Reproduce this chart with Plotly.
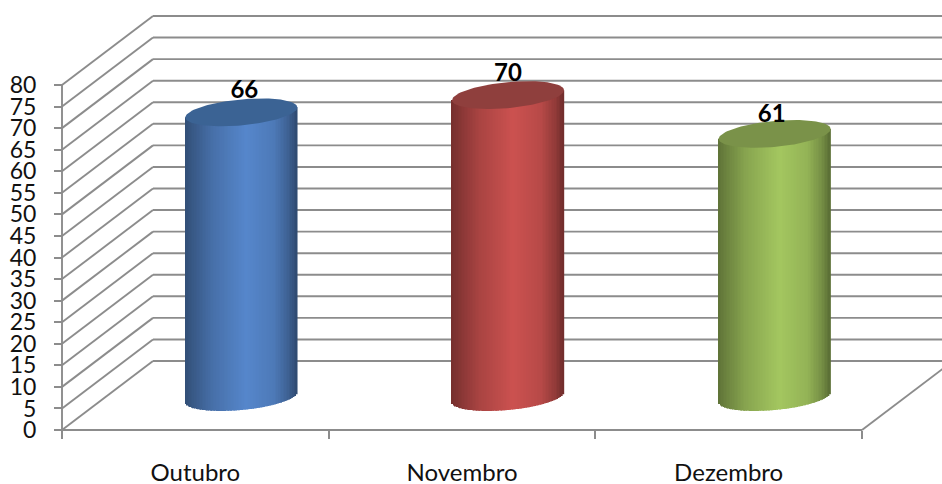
import numpy as np
import plotly.graph_objects as go

categories = ["Outubro", "Novembro", "Dezembro"]
values = [66, 70, 61]
y_ticks = list(range(0, 85, 5))
base_colors = [(86, 135, 204), (204, 82, 80), (164, 199, 96)]
cap_colors = ["#3b6394", "#8f3f3d", "#7a9249"]

W, H = 942, 484
X0, Y0 = 62, 430
PX_X = 800 / 3
PX_Y = 345 / 80
DEPTH_X = 91 / PX_X
DEPTH_Y = 69 / PX_Y
MID_X = 46 / PX_X
MID_Y = 33 / PX_Y
HALF_W = 56 / PX_X
RY = 13 / PX_Y
TILT = 5 / PX_Y
GRID = "#8c8c8c"
LABEL_DX = [3 / PX_X, 0, -3 / PX_X]
LABEL_DY = [20.5 / PX_Y, 20.5 / PX_Y, 18 / PX_Y]

x_edges = [0, 1, 2, 3]
x_centers = [i + 0.5 for i in range(len(categories))]

shapes = []
def seg(x1, y1, x2, y2, width=1.9):
    shapes.append(dict(type="line", xref="x", yref="y", layer="below",
                       x0=x1, y0=y1, x1=x2, y1=y2,
                       line=dict(color=GRID, width=width)))

for v in y_ticks:
    seg(0, v, DEPTH_X, v + DEPTH_Y)
    seg(DEPTH_X, v + DEPTH_Y, 3.4, v + DEPTH_Y)
seg(0, 0, 0, 80)
seg(0, 0, 3, 0)
seg(3, 0, 3 + DEPTH_X, DEPTH_Y)

N = 72
ts = np.linspace(-1, 1, N + 1)
ts = (ts[:-1] + ts[1:]) / 2
profile_t = [-1, -0.85, -0.5, 0.1, 0.6, 0.85, 1]
profile_f = [0.58, 0.66, 0.83, 1.0, 0.9, 0.72, 0.55]

fig = go.Figure()
for cx, val, rgb, cap in zip(x_centers, values, base_colors, cap_colors):
    c = cx + MID_X
    xs = c + HALF_W * ts
    bases = MID_Y + TILT * ts - RY * np.sqrt(1 - ts ** 2)
    tops = val + MID_Y + TILT * ts
    colors = []
    for t in ts:
        f = np.interp(t, profile_t, profile_f)
        colors.append("rgb({},{},{})".format(*[int(k * f) for k in rgb]))
    fig.add_trace(go.Bar(x=xs, y=tops - bases, base=bases,
                         width=2 * HALF_W / N * 1.25,
                         marker=dict(color=colors, line=dict(width=0)),
                         hoverinfo="skip", showlegend=False))
    a = np.linspace(0, 2 * np.pi, 120)
    fig.add_trace(go.Scatter(
        x=c + HALF_W * np.cos(a),
        y=val + MID_Y + TILT * np.cos(a) + RY * np.sin(a),
        mode="lines", fill="toself", fillcolor=cap,
        line=dict(width=0, color=cap), hoverinfo="skip", showlegend=False))

fig.add_trace(go.Scatter(
    x=[c + MID_X + d for c, d in zip(x_centers, LABEL_DX)],
    y=[v + MID_Y + d for v, d in zip(values, LABEL_DY)],
    mode="text", text=[str(v) for v in values], textposition="middle center",
    textfont=dict(family="Lato", size=24, color="black"),
    texttemplate="<b>%{text}</b>", hoverinfo="skip", showlegend=False))

fig.update_layout(
    width=W, height=H,
    margin=dict(l=0, r=0, t=0, b=0, autoexpand=False),
    paper_bgcolor="white", plot_bgcolor="white", showlegend=False,
    barmode="overlay", shapes=shapes,
    font=dict(family="Lato", color="#111111"),
    xaxis=dict(range=[-X0 / PX_X, (W - X0) / PX_X], domain=[0, 1],
               anchor="free", position=(H - Y0) / H, showgrid=False,
               zeroline=False, showline=False, automargin=False,
               tickmode="array", tickvals=x_centers, ticktext=categories,
               ticks="", ticklabelstandoff=26,
               tickfont=dict(family="Lato", size=24, color="#111111"),
               minor=dict(tickmode="array", tickvals=x_edges, ticks="outside",
                          ticklen=8, tickwidth=1.9, tickcolor=GRID, showgrid=False)),
    yaxis=dict(range=[(Y0 - H) / PX_Y, Y0 / PX_Y], domain=[0, 1],
               anchor="free", position=X0 / W, showgrid=False,
               zeroline=False, showline=False, automargin=False,
               tickmode="array", tickvals=y_ticks,
               ticks="outside", ticklen=8, tickwidth=1.9, tickcolor=GRID,
               ticklabelstandoff=13,
               tickfont=dict(family="Lato", size=23, color="#111111")),
)
fig.write_html("out.html", post_script="document.body.style.margin='0';",
               config={"displayModeBar": False})
